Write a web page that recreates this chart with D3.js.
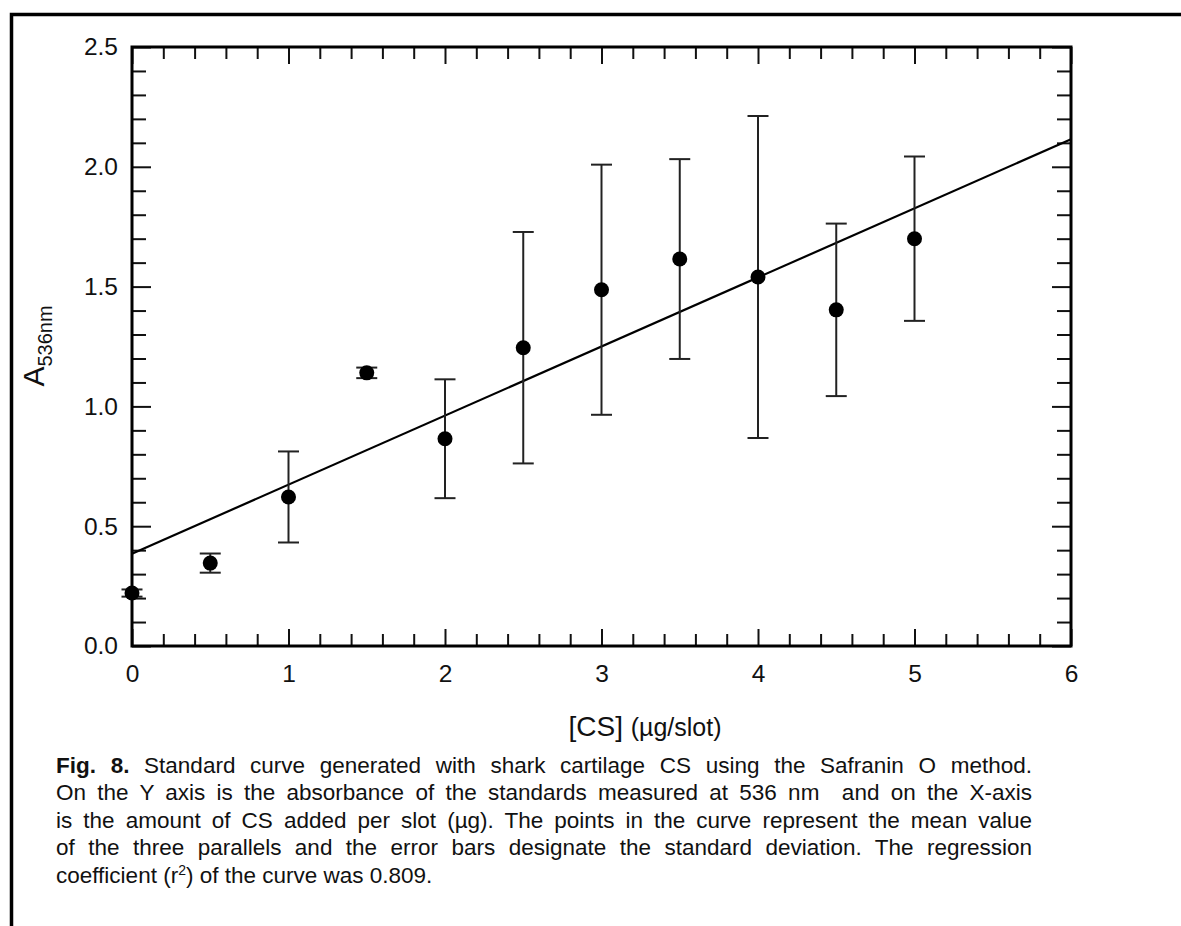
<!DOCTYPE html>
<html>
<head>
<meta charset="utf-8">
<script src="https://cdn.jsdelivr.net/npm/d3@7/dist/d3.min.js"></script>
<style>
  body { margin: 0; background: #fff; }
  #wrap { position: relative; width: 1181px; height: 926px; overflow: hidden; }
  svg { position: absolute; left: 0; top: 0; }
  #caption {
    position: absolute; left: 56px; top: 752px; width: 976px;
    font-family: Arial, "Liberation Sans", sans-serif; font-size: 22.5px;
    line-height: 27.4px; color: #111;
  }
  #caption div { text-align: justify; text-align-last: justify; white-space: nowrap; }
  #caption div.last { text-align-last: left; }
</style>
</head>
<body>
<div id="wrap">
  <div id="chart"></div>
  <div id="caption"></div>
</div>
<script>
var width = 1181, height = 926;

// data
var concentration = [0, 0.5, 1, 1.5, 2, 2.5, 3, 3.5, 4, 4.5, 5];
var meanAbs = [0.221, 0.346, 0.622, 1.14, 0.865, 1.245, 1.487, 1.615, 1.54, 1.403, 1.70];
var sdAbs = [0.015, 0.04, 0.19, 0.022, 0.248, 0.483, 0.522, 0.417, 0.672, 0.36, 0.343];

// regression line end points
var fitX = [0, 6];
var fitY = [0.385, 2.115];

var xMajor = [0, 1, 2, 3, 4, 5, 6];
var yMajor = [0, 0.5, 1.0, 1.5, 2.0, 2.5];

var captionLines = [
  "<b>Fig. 8.</b> Standard curve generated with shark cartilage CS using the Safranin O method.",
  "On the Y axis is the absorbance of the standards measured at 536 nm &nbsp;and on the X-axis",
  "is the amount of CS added per slot (µg). The points in the curve represent the mean value",
  "of the three parallels and the error bars designate the standard deviation. The regression",
  "coefficient (r<sup style='font-size:14px;line-height:0'>2</sup>) of the curve was 0.809."
];

var pLeft = 132, pRight = 1071, pTop = 47, pBottom = 646;
var font = 'Arial, "Liberation Sans", sans-serif';

var svg = d3.select('#chart').append('svg')
    .attr('width', width)
    .attr('height', height);

// outer figure border (top and left edges visible)
svg.append('path')
    .attr('d', 'M11.5,926 L11.5,14.5 L1181,14.5')
    .attr('fill', 'none')
    .attr('stroke', '#000')
    .attr('stroke-width', 3.5);

var x = d3.scaleLinear().domain([0, 6]).range([pLeft, pRight]);
var y = d3.scaleLinear().domain([0, 2.5]).range([pBottom, pTop]);

var xMinor = d3.range(0, 30).map(function(i){ return i * 0.2; }).filter(function(v, i){ return i % 5 != 0; });
var yMinor = d3.range(0, 25).map(function(i){ return i * 0.1; }).filter(function(v, i){ return i % 5 != 0; });

function styleAxis(g){
    g.select('.domain').remove();
    g.selectAll('.tick line').attr('stroke', '#111').attr('stroke-width', 2);
    g.selectAll('.tick text').attr('fill', '#111')
        .style('font-family', font).style('font-size', '24.5px');
}

// bottom axis
svg.append('g').attr('transform', 'translate(0,' + pBottom + ')')
    .call(d3.axisBottom(x).tickValues(xMajor).tickSizeInner(-17).tickSizeOuter(0).tickPadding(19).tickFormat(d3.format('d')))
    .call(styleAxis);
svg.append('g').attr('transform', 'translate(0,' + pBottom + ')')
    .call(d3.axisBottom(x).tickValues(xMinor).tickSizeInner(-12).tickSizeOuter(0).tickFormat(''))
    .call(styleAxis);
// top axis
svg.append('g').attr('transform', 'translate(0,' + pTop + ')')
    .call(d3.axisTop(x).tickValues(xMajor).tickSizeInner(-17).tickSizeOuter(0).tickFormat(''))
    .call(styleAxis);
svg.append('g').attr('transform', 'translate(0,' + pTop + ')')
    .call(d3.axisTop(x).tickValues(xMinor).tickSizeInner(-12).tickSizeOuter(0).tickFormat(''))
    .call(styleAxis);
// left axis
svg.append('g').attr('transform', 'translate(' + pLeft + ',0)')
    .call(d3.axisLeft(y).tickValues(yMajor).tickSizeInner(-19).tickSizeOuter(0).tickPadding(14).tickFormat(d3.format('.1f')))
    .call(styleAxis);
svg.append('g').attr('transform', 'translate(' + pLeft + ',0)')
    .call(d3.axisLeft(y).tickValues(yMinor).tickSizeInner(-14).tickSizeOuter(0).tickFormat(''))
    .call(styleAxis);
// right axis
svg.append('g').attr('transform', 'translate(' + pRight + ',0)')
    .call(d3.axisRight(y).tickValues(yMajor).tickSizeInner(-19).tickSizeOuter(0).tickFormat(''))
    .call(styleAxis);
svg.append('g').attr('transform', 'translate(' + pRight + ',0)')
    .call(d3.axisRight(y).tickValues(yMinor).tickSizeInner(-14).tickSizeOuter(0).tickFormat(''))
    .call(styleAxis);

// plot frame
svg.append('rect')
    .attr('x', pLeft).attr('y', pTop)
    .attr('width', pRight - pLeft).attr('height', pBottom - pTop)
    .attr('fill', 'none').attr('stroke', '#000').attr('stroke-width', 3);

// regression line
var lineFunc = d3.line()
    .x(function(d){ return x(d[0]); })
    .y(function(d){ return y(d[1]); });

svg.append('path')
    .attr('d', lineFunc(d3.zip(fitX, fitY)))
    .attr('stroke', '#000')
    .attr('stroke-width', 2.2)
    .attr('fill', 'none');

var pts = concentration.map(function(c, i){ return { x: c, m: meanAbs[i], sd: sdAbs[i] }; });

// error bars
var err = svg.append('g').attr('stroke', '#222').attr('stroke-width', 2).attr('fill', 'none');
err.selectAll('line.v').data(pts).enter().append('line')
    .attr('class', 'v')
    .attr('x1', function(d){ return x(d.x); }).attr('x2', function(d){ return x(d.x); })
    .attr('y1', function(d){ return y(d.m - d.sd); }).attr('y2', function(d){ return y(d.m + d.sd); });
['lo', 'hi'].forEach(function(k){
    err.selectAll('line.' + k).data(pts).enter().append('line')
        .attr('class', k)
        .attr('x1', function(d){ return x(d.x) - 10.5; }).attr('x2', function(d){ return x(d.x) + 10.5; })
        .attr('y1', function(d){ return y(k == 'lo' ? d.m - d.sd : d.m + d.sd); })
        .attr('y2', function(d){ return y(k == 'lo' ? d.m - d.sd : d.m + d.sd); });
});

// mean points
svg.selectAll('circle.pt').data(pts).enter().append('circle')
    .attr('class', 'pt')
    .attr('cx', function(d){ return x(d.x); })
    .attr('cy', function(d){ return y(d.m); })
    .attr('r', 7.5)
    .attr('fill', '#000');

// axis titles
var xt = svg.append('text')
    .attr('x', 645).attr('y', 736)
    .attr('text-anchor', 'middle')
    .style('font-family', font).attr('fill', '#111');
xt.append('tspan').style('font-size', '28px').text('[CS] ');
xt.append('tspan').style('font-size', '25px').text('(µg/slot)');

var yt = svg.append('text')
    .attr('transform', 'translate(44,346) rotate(-90)')
    .attr('text-anchor', 'middle')
    .style('font-family', font).attr('fill', '#111');
yt.append('tspan').style('font-size', '30px').text('A');
yt.append('tspan').style('font-size', '20px').attr('dy', 8).text('536nm');

// caption
d3.select('#caption').selectAll('div').data(captionLines).enter().append('div')
    .attr('class', function(d, i){ return i == captionLines.length - 1 ? 'last' : null; })
    .html(function(d){ return d; });
</script>
</body>
</html>
